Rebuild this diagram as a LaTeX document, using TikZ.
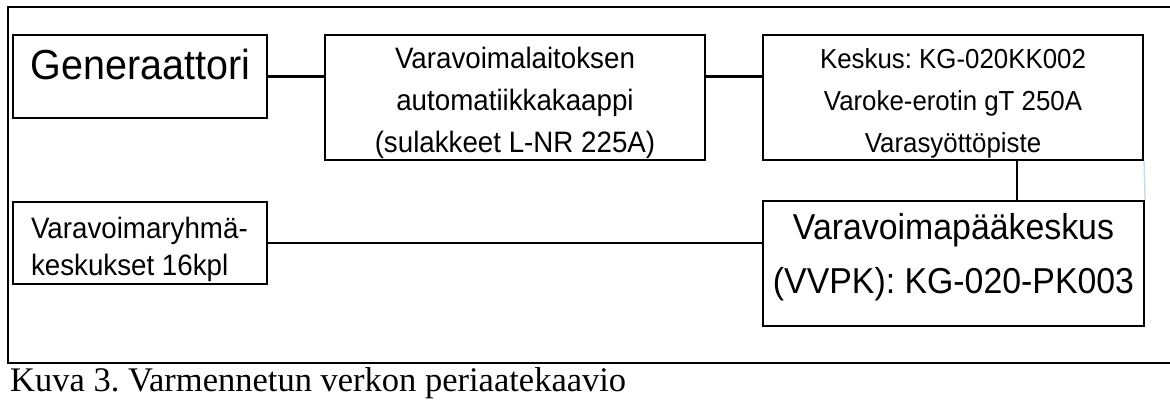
\documentclass[tikz,border=0pt]{standalone}
\usepackage{fontspec}
\setmainfont{Liberation Serif}
\newfontfamily\boxfont[FakeStretch=0.94]{Liberation Sans}
\frenchspacing
\begin{document}
\begin{tikzpicture}[x=1pt,y=-1pt,
  boxst/.style={draw=black, line width=2.2pt, rectangle, inner sep=0pt},
  txt/.style={inner sep=0pt, outer sep=0pt, align=center},
  wire/.style={draw=black, line width=2.2pt},
  frame/.style={draw=black, line width=2.4pt}]
\useasboundingbox[fill=white] (0,0) rectangle (1170,399);
% frame
\draw[frame] (1171,7) -- (8,7) -- (8,363) -- (1171,363);
% boxes
\node[boxst, minimum width=254pt, minimum height=83pt] (gen) at (140,76.5) {};
\node[boxst, minimum width=380pt, minimum height=125pt] (auto) at (515,97.5) {};
\node[boxst, minimum width=380pt, minimum height=125pt] (kesk) at (953,97.5) {};
\node[boxst, minimum width=381pt, minimum height=125pt] (vvpk) at (953.5,263.5) {};
\node[boxst, minimum width=254pt, minimum height=82pt] (ryhma) at (140,243) {};
% texts
\node[txt, font={\boxfont\fontsize{42}{50}\selectfont}] (genT) at (140.5,69) {\strut Generaattori};
\node[txt, font={\boxfont\fontsize{29.5}{42}\selectfont}] (autoT) at (515,101.6)
  {\strut Varavoimalaitoksen\\\strut automatiikkakaappi\\\strut (sulakkeet L-NR 225A)};
\node[txt, font={\boxfont\fontsize{27.5}{42}\selectfont}] (keskT) at (953,101.6)
  {\strut Keskus: KG-020KK002\\\strut Varoke-erotin gT 250A\\\strut Varasyöttöpiste};
\node[txt, font={\boxfont\fontsize{36}{54}\selectfont}] (vvpkT) at (953.5,255.2)
  {\strut Varavoimapääkeskus\\\strut (VVPK): KG-020-PK003};
\node[txt, align=left, anchor=west, font={\boxfont\fontsize{29.5}{37}\selectfont}] (ryhmaT) at (31,249.1)
  {\strut Varavoimaryhmä-\\\strut keskukset 16kpl};
% connectors
\draw[wire] (gen.east) -- (gen.east -| auto.west);
\draw[wire] (auto.east |- gen.east) -- (kesk.west |- gen.east);
\draw[wire] ([xshift=64pt]kesk.south) -- ([xshift=64pt]kesk.south |- vvpk.north);
\draw[wire] (ryhma.east) -- (ryhma.east -| vvpk.west);
\draw[draw={rgb,255:red,208;green,216;blue,232}, line width=1.5pt] (kesk.south east) -- (vvpk.north east);
% caption
\node[inner sep=0pt, anchor=base west, font={\fontsize{34.5}{40}\selectfont}] (cap) at (10,391)
  {Kuva 3. Varmennetun verkon periaatekaavio};
\end{tikzpicture}
\end{document}
